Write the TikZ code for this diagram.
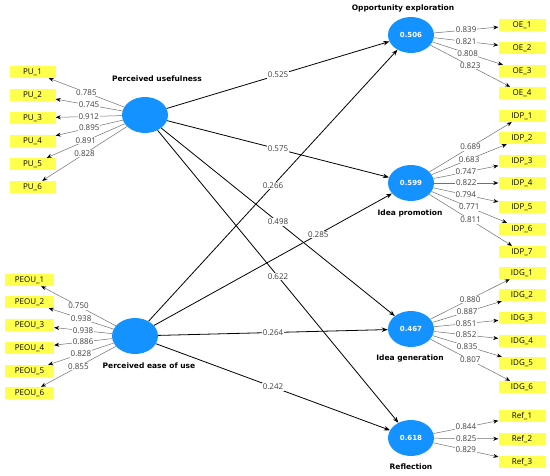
\documentclass[tikz,border=0pt]{standalone}
\usepackage{fontspec}
\setmainfont{Open Sans}
\newfontfamily\labfont{DejaVu Sans}
\usetikzlibrary{arrows.meta,shapes.geometric}
\definecolor{cvar}{HTML}{1492FF}
\definecolor{cind}{HTML}{FFFF4D}
\definecolor{cload}{HTML}{707070}

\begin{document}
\begin{tikzpicture}[
  x=1pt, y=-1pt,
  font=\fontsize{8}{9.5}\selectfont,
  lv/.style={ellipse, fill=cvar, minimum width=46pt, minimum height=36pt, inner sep=0pt,
             text=white, font=\labfont\bfseries\fontsize{7}{8}\selectfont},
  ind/.style={fill=cind, minimum width=#1, minimum height=12pt, inner sep=0pt},
  ind/.default=47pt,
  title/.style={font=\labfont\bfseries\fontsize{7.5}{9}\selectfont},
  path/.style={-{Stealth[length=6pt, width=4.5pt]}, line width=0.8pt},
  load/.style={-{Stealth[length=5pt, width=4pt, color=black]}, line width=0.5pt, draw=cload},
  coef/.style={fill=white, inner sep=0.6pt, text=black!75},
]
\useasboundingbox (0,0) rectangle (550,476);
\fill[white] (0,0) rectangle (550,476);

% ------------------------------------------------------------ latent variables
\node[lv] (PU) at (145,115) {};
\node[lv] (PEOU) at (135,336) {};
\node[lv] (OE) at (411,35) {0.506};
\node[lv] (IDP) at (411,183) {0.599};
\node[lv] (IDG) at (411,329) {0.467};
\node[lv] (Ref) at (411,438) {0.618};

\node[title] (tPU) at (157,79) {Perceived usefulness};
\node[title] (tPEOU) at (149,366) {Perceived ease of use};
\node[title] (tOE) at (403,8) {Opportunity exploration};
\node[title] (tIDP) at (410,213) {Idea promotion};
\node[title] (tIDG) at (410,358) {Idea generation};
\node[title] (tRef) at (411,467) {Reflection};

% ------------------------------------------------------------ outer loadings
\foreach \i/\y/\w in {1/72/0.785, 2/95/0.745, 3/118/0.912, 4/141/0.895, 5/164/0.891, 6/187/0.828} {
  \node[ind=46pt] (PU\i) at (32.5,\y) {PU\_\i};
  \draw[load] (PU) -- node[coef]{\w} (PU\i);
}
\foreach \i/\y/\w in {1/280/0.750, 2/302/0.938, 3/325/0.938, 4/348/0.886, 5/371/0.828, 6/393/0.855} {
  \node[ind=49pt] (PEOU\i) at (29.5,\y) {PEOU\_\i};
  \draw[load] (PEOU) -- node[coef]{\w} (PEOU\i);
}
\foreach \i/\y/\w in {1/25/0.839, 2/48/0.821, 3/71/0.808, 4/93/0.823} {
  \node[ind] (OE\i) at (522,\y) {OE\_\i};
  \draw[load] (OE) -- node[coef]{\w} (OE\i);
}
\foreach \i/\y/\w in {1/116/0.689, 2/138/0.683, 3/161/0.747, 4/183/0.822, 5/207/0.794, 6/229/0.771, 7/252/0.811} {
  \node[ind] (IDP\i) at (522,\y) {IDP\_\i};
  \draw[load] (IDP) -- node[coef]{\w} (IDP\i);
}
\foreach \i/\y/\w in {1/273/0.880, 2/295/0.887, 3/318/0.851, 4/341/0.852, 5/363/0.835, 6/387/0.807} {
  \node[ind] (IDG\i) at (522,\y) {IDG\_\i};
  \draw[load] (IDG) -- node[coef]{\w} (IDG\i);
}
\foreach \i/\y/\w in {1/416/0.844, 2/439/0.825, 3/462/0.829} {
  \node[ind] (Ref\i) at (522,\y) {Ref\_\i};
  \draw[load] (Ref) -- node[coef]{\w} (Ref\i);
}

% ------------------------------------------------------------ path coefficients
\draw[path] (PU) -- node[coef]{0.525} (OE);
\draw[path] (PU) -- node[coef]{0.575} (IDP);
\draw[path] (PU) -- node[coef]{0.498} (IDG);
\draw[path] (PU) -- node[coef]{0.622} (Ref);
\draw[path] (PEOU) -- node[coef]{0.266} (OE);
\draw[path] (PEOU) -- node[coef, pos=0.69]{0.285} (IDP);
\draw[path] (PEOU) -- node[coef]{0.264} (IDG);
\draw[path] (PEOU) -- node[coef]{0.242} (Ref);

\end{tikzpicture}
\end{document}
